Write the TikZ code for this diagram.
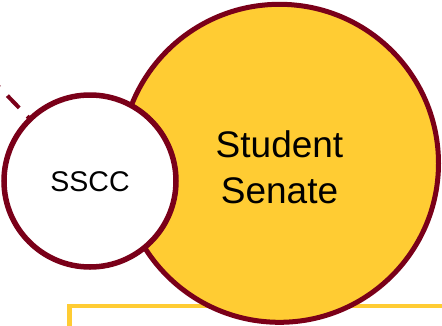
\documentclass[tikz,border=0pt]{standalone}
\usepackage{fontspec}
\setmainfont{Liberation Sans}
\definecolor{umaroon}{HTML}{7A0019}
\definecolor{ugold}{HTML}{FFCC33}
\tikzset{
  bigcirc/.style={circle, draw=umaroon, fill=ugold, line width=5pt, inner sep=0pt, minimum size=318pt},
  smallcirc/.style={circle, draw=umaroon, fill=white, line width=5.5pt, inner sep=0pt, minimum size=172pt},
  goldbox/.style={rectangle, draw=ugold, fill=white, line width=4.5pt, inner sep=0pt, outer sep=0pt, anchor=north west, minimum width=420pt, minimum height=110pt},
  dashlink/.style={draw=umaroon, line width=4pt, dash pattern=on 17pt off 11.6pt, dash phase=12.6pt},
  bigtext/.style={font=\fontsize{37}{45.5}\selectfont, align=center, inner sep=0pt},
  smalltext/.style={font=\fontsize{28.5}{34}\selectfont, inner sep=0pt}
}
\begin{document}
\begin{tikzpicture}[x=1pt,y=-1pt]
\useasboundingbox (0,0) rectangle (442,325);
\clip (0,0) rectangle (442,325);
\node[goldbox] (box) at (69.5,306) {};
\node[bigcirc] (senate) at (279.5,163.3) {};
\node[bigtext] (senatetext) at (279.5,167.5) {Student\\Senate};
\coordinate (ssccc) at (90,181);
\coordinate (dashend) at (-49,37.4);
\draw[dashlink] (ssccc) -- (dashend);
\node[smallcirc] (sscc) at (ssccc) {};
\node[smalltext] (ssctext) at (90,181.5) {SSCC};
\end{tikzpicture}
\end{document}
